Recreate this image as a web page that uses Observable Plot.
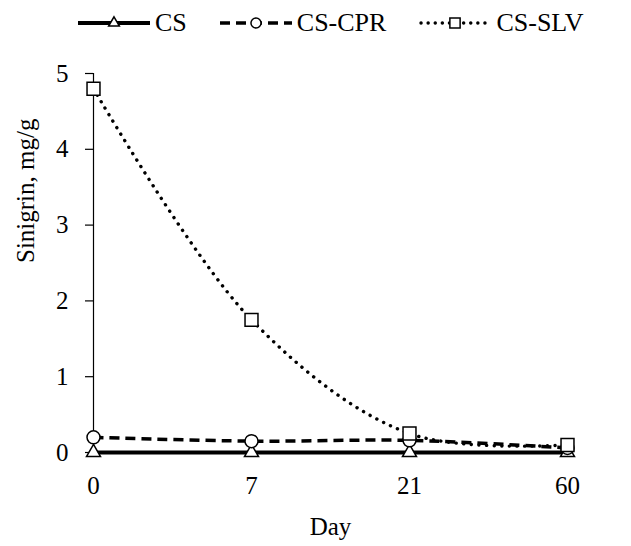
<!DOCTYPE html>
<html>
<head>
<meta charset="utf-8">
<script src="https://cdn.jsdelivr.net/npm/d3@7"></script>
<script src="https://cdn.jsdelivr.net/npm/@observablehq/plot@0.6"></script>
<style>
  html, body { margin: 0; padding: 0; background: #fff; }
  body { width: 631px; height: 546px; overflow: hidden; font-family: "Liberation Serif", "Times New Roman", serif; }
  #legend { height: 45px; display: flex; align-items: center; justify-content: flex-start; padding-left: 78px; padding-top: 1px; box-sizing: border-box; font-size: 26px; color: #000; }
  .item { display: flex; align-items: center; margin-right: 33px; }
  .item svg { display: block; margin-right: 5px; }
  #chart svg { display: block; }
</style>
</head>
<body>
<div id="legend"></div>
<div id="chart"></div>
<script>
// Sampling days (categorical, evenly spaced)
const days = ["0", "7", "21", "60"];
// Sinigrin content, mg/g
const cs = [0, 0, 0, 0];
const csCpr = [0.2, 0.15, 0.16, 0.06];
const csSlv = [4.8, 1.75, 0.25, 0.1];
const seriesNames = ["CS", "CS-CPR", "CS-SLV"];
const yTicks = [0, 1, 2, 3, 4, 5];

const styles = {
  "CS": {dash: null, width: 4, cap: "butt", symbol: "triangle", r: 5.2},
  "CS-CPR": {dash: "10,6", width: 3.5, cap: "butt", symbol: "circle", r: 6.5},
  "CS-SLV": {dash: "0.1,7.5", width: 3.4, cap: "round", symbol: "square", r: 7.3}
};

const seriesValues = [cs, csCpr, csSlv];
const rows = seriesNames.flatMap((name, i) =>
  days.map((day, j) => ({series: name, day, value: seriesValues[i][j]}))
);

const font = `"Liberation Serif", "Times New Roman", serif`;

const marks = [
  Plot.ruleX([days[0]], {x: d => d, y1: 0, y2: 5, stroke: "#000", strokeWidth: 1.2}),
  Plot.axisY({ticks: yTicks, tickFormat: "d", tickSize: 8, tickPadding: 17, label: null, fontSize: 25, fontFamily: font, strokeWidth: 1.2}),
  Plot.axisX({tickSize: 0, tickPadding: 24, label: null, fontSize: 25, fontFamily: font}),
  Plot.text(["Sinigrin, mg/g"], {frameAnchor: "left", dx: -68, rotate: -90, fontSize: 25, fontFamily: font}),
  Plot.text(["Day"], {frameAnchor: "bottom", dy: 82, fontSize: 25, fontFamily: font})
];

for (const name of seriesNames) {
  const s = styles[name];
  const data = rows.filter(d => d.series === name);
  marks.push(Plot.line(data, {
    x: "day", y: "value", curve: "catmull-rom",
    stroke: "#000", strokeWidth: s.width,
    strokeDasharray: s.dash, strokeLinecap: s.cap
  }));
  marks.push(Plot.dot(data, {
    x: "day", y: "value", symbol: () => s.symbol, r: s.r,
    fill: "#fff", stroke: "#000", strokeWidth: 1.5
  }));
}

const chart = Plot.plot({
  width: 631,
  height: 501,
  marginTop: 28,
  marginBottom: 94,
  marginLeft: 93,
  marginRight: 64,
  style: {fontFamily: font, fontSize: "25px", color: "#000", background: "#fff"},
  x: {type: "point", domain: days, padding: 0},
  y: {domain: [0, 5]},
  symbol: {domain: ["triangle", "circle", "square"], range: ["triangle", "circle", "square"]},
  marks
});
document.getElementById("chart").appendChild(chart);

// Legend: line swatch with its marker, then the series name
const legend = d3.select("#legend");
const legendDash = {"CS": null, "CS-CPR": "10,6", "CS-SLV": "0.1,7"};
const symbolPath = {
  "triangle": d3.symbol(d3.symbolTriangle, 50)(),
  "circle": d3.symbol(d3.symbolCircle, 80)(),
  "square": d3.symbol(d3.symbolSquare, 105)()
};
for (const name of seriesNames) {
  const s = styles[name];
  const item = legend.append("div").attr("class", "item");
  const svg = item.append("svg").attr("width", 72).attr("height", 20);
  svg.append("line")
    .attr("x1", name === "CS-SLV" ? 2 : 0).attr("x2", 72).attr("y1", 10).attr("y2", 10)
    .attr("stroke", "#000").attr("stroke-width", s.width)
    .attr("stroke-dasharray", legendDash[name]).attr("stroke-linecap", s.cap);
  svg.append("path")
    .attr("d", symbolPath[s.symbol])
    .attr("transform", "translate(36,10)")
    .attr("fill", "#fff").attr("stroke", "#000").attr("stroke-width", 1.5);
  item.append("span").text(name);
}
</script>
</body>
</html>
